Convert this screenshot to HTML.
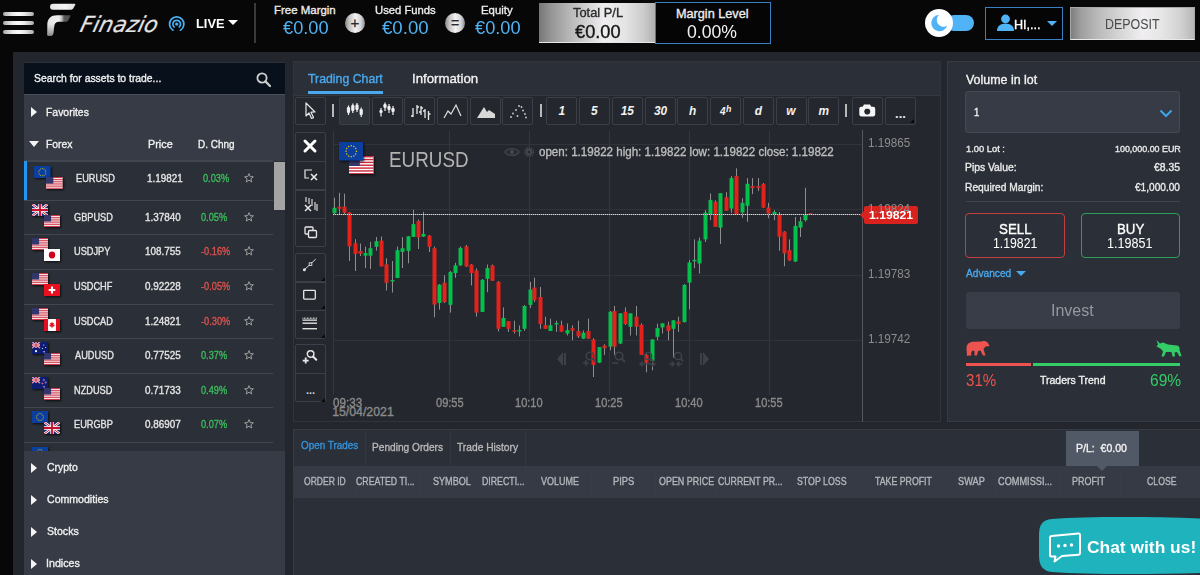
<!DOCTYPE html>
<html><head><meta charset="utf-8"><title>Finazio WebTrader</title>
<style>
*{box-sizing:border-box;margin:0;padding:0}
html,body{width:1200px;height:575px;overflow:hidden;background:#070707;font-family:"Liberation Sans",Arial,sans-serif;color:#e6e6e6}
.a{position:absolute}
.t{position:absolute;line-height:1;white-space:pre;transform-origin:0 0}
.fl{filter:drop-shadow(1px 1px 1px rgba(0,0,0,.75))}
</style></head><body>
<div class="a" style="left:2.7px;top:12px;width:31.2px;height:4px;background:linear-gradient(90deg,#a8a8a8,#e8e8e8 30%,#fafafa 50%,#e8e8e8 70%,#a8a8a8);border-radius:2px"></div>
<div class="a" style="left:2.7px;top:21px;width:31.2px;height:4px;background:linear-gradient(90deg,#a8a8a8,#e8e8e8 30%,#fafafa 50%,#e8e8e8 70%,#a8a8a8);border-radius:2px"></div>
<div class="a" style="left:2.7px;top:30px;width:31.2px;height:4px;background:linear-gradient(90deg,#a8a8a8,#e8e8e8 30%,#fafafa 50%,#e8e8e8 70%,#a8a8a8);border-radius:2px"></div>
<svg class="a" style="left:44px;top:2px" width="36" height="36" viewBox="0 0 36 36">
<defs><linearGradient id="lgt" x1="0" y1="0" x2="1" y2="0"><stop offset="0" stop-color="#e6e6e6"/><stop offset="0.6" stop-color="#f4f4f4"/><stop offset="1" stop-color="#dcdcdc"/></linearGradient>
<linearGradient id="lgb" x1="0" y1="0" x2="1" y2="0"><stop offset="0" stop-color="#e4e4e4"/><stop offset="0.5" stop-color="#eeeeee"/><stop offset="0.62" stop-color="#bdbdbd"/><stop offset="0.72" stop-color="#5c5c5c"/><stop offset="1" stop-color="#4a4a4a"/></linearGradient>
<linearGradient id="lgs" x1="0" y1="0" x2="0" y2="1"><stop offset="0" stop-color="#9a9a9a" stop-opacity="0"/><stop offset="1" stop-color="#8a8a8a" stop-opacity="1"/></linearGradient></defs>
<path d="M9 1.8 H30.5 Q31.8 1.8 31.2 3 L29.2 6.6 Q28.6 7.7 27.3 7.7 H9 A2.95 2.95 0 0 1 9 1.8 Z" fill="url(#lgt)"/>
<path d="M3.5 33.2 L3.3 23 C3.3 16.5 7 13.3 13 13.3 L25.9 13.3 Q26.8 13.3 26.4 14.3 L24.2 18.5 Q23.5 19.8 22 19.8 L15 19.8 C12 19.8 10.5 21.5 10.3 24 L9.2 31.5 C9 33 8 33.6 6.5 33.6 L4.5 33.6 Q3.5 33.6 3.5 33.2 Z" fill="url(#lgb)"/>
<path d="M3.5 33.2 L3.3 22 L10.6 22 L10.3 24 L9.2 31.5 C9 33 8 33.6 6.5 33.6 L4.5 33.6 Q3.5 33.6 3.5 33.2 Z" fill="url(#lgs)"/>
</svg>
<div class="t" style="left:79px;top:14px;font-size:22px;font-family:'DejaVu Sans',sans-serif;font-weight:200;font-style:italic;color:#e4e4e4;transform-origin:0 18px;transform:skewX(-14deg) scaleX(1.0);-webkit-text-stroke:0.2px #e4e4e4">Finazio</div>
<svg class="a" style="left:167px;top:15px" width="20" height="18" viewBox="0 0 20 18">
<circle cx="9.7" cy="9.1" r="1.7" fill="#4ab0f4"/>
<path d="M7.11 11.88 A3.8 3.8 0 1 1 12.29 11.88" fill="none" stroke="#4ab0f4" stroke-width="1.7" stroke-linecap="round"/>
<path d="M5.93 15.23 A7.2 7.2 0 1 1 13.47 15.23" fill="none" stroke="#4ab0f4" stroke-width="1.7" stroke-linecap="round"/>
</svg>
<div class="a" style="left:228px;top:20px;width:0;height:0;border-left:5px solid transparent;border-right:5px solid transparent;border-top:5px solid #fff"></div>
<div class="a" style="left:254px;top:3px;width:2px;height:40px;background:#3a3a3a;"></div>
<div class="a" style="left:345px;top:13px;width:20px;height:20px;background:linear-gradient(90deg,#8a8a8a 0,#c4c4c4 22%,#f2f2f2 52%,#d6d6d6 78%,#8e8e8e 100%);border-radius:50%"></div>
<div class="a" style="left:445px;top:13px;width:20px;height:20px;background:linear-gradient(90deg,#8a8a8a 0,#c4c4c4 22%,#f2f2f2 52%,#d6d6d6 78%,#8e8e8e 100%);border-radius:50%"></div>
<div class="a" style="left:345px;top:13px;width:20px;height:20px;text-align:center;font:15px/20px 'Liberation Sans',sans-serif;color:#2a2a2a;-webkit-text-stroke:0.3px #2a2a2a">+</div>
<div class="a" style="left:445px;top:13px;width:20px;height:20px;text-align:center;font:14px/20px 'Liberation Sans',sans-serif;color:#2a2a2a;-webkit-text-stroke:0.3px #2a2a2a">=</div>
<div class="a" style="left:539px;top:3px;width:116px;height:40px;background:linear-gradient(90deg,#767676 0,#949494 10%,#b2b2b2 24%,#d0d0d0 40%,#f0eef0 56%,#e4e4e4 74%,#cccccc 90%,#b0b0b0 100%);border-bottom:1px solid #e6e6e6"></div>
<div class="a" style="left:655px;top:2px;width:116px;height:42px;background:#050505;border:1px solid #3a7fc0"></div>
<div class="a" style="left:946px;top:15px;width:28px;height:16px;background:#4fb3f6;border-radius:8px"></div>
<div class="a" style="left:925px;top:9px;width:28px;height:28px;background:#ffffff;border-radius:50%"></div>
<svg class="a" style="left:929.5px;top:13px" width="20" height="20" viewBox="0 0 20 20"><path d="M9.11 1.81 A8.2 8.2 0 1 0 17.25 12.67 A6.8 6.8 0 0 1 9.11 1.81 Z" fill="#4fb3f6"/></svg>
<div class="a" style="left:985px;top:7px;width:78px;height:33px;background:#050505;border:1px solid #3a7fc0"></div>
<svg class="a" style="left:996px;top:14px" width="19" height="17" viewBox="0 0 19 17"><circle cx="9.5" cy="5" r="4.4" fill="#4fb3f6"/><path d="M1 17 C1 11.5 5 9.8 9.5 9.8 C14 9.8 18 11.5 18 17 Z" fill="#4fb3f6"/></svg>
<div class="a" style="left:1047px;top:20.5px;width:0;height:0;border-left:5px solid transparent;border-right:5px solid transparent;border-top:5px solid #4fb3f6"></div>
<div class="a" style="left:1070px;top:7px;width:125px;height:33px;background:linear-gradient(90deg,#7e7e7e 0,#9e9e9e 8%,#bababa 22%,#d6d6d6 40%,#f0eef1 58%,#e6e6e6 74%,#d0d0d0 90%,#b6b6b6 100%);border:1px solid #a8a8a8;border-bottom-color:#e8e8e8"></div>
<div class="a" style="left:13px;top:52px;width:1187px;height:523px;background:#23262c;"></div>
<div class="a" style="left:24px;top:62px;width:261px;height:513px;background:#363b45;"></div>
<div class="a" style="left:24px;top:62px;width:261px;height:1px;background:#2d3139;"></div>
<div class="a" style="left:24px;top:63px;width:261px;height:31px;background:#08111b;"></div>
<div class="a" style="left:24px;top:94px;width:261px;height:1px;background:#4b515b;"></div>
<div class="a" style="left:24px;top:161px;width:261px;height:290px;background:#2b2f37;"></div>
<div class="a" style="left:24px;top:160px;width:249px;height:2px;background:#41464f;"></div>
<svg class="a" style="left:255px;top:71px" width="18" height="18" viewBox="0 0 18 18"><circle cx="7" cy="7" r="4.6" fill="none" stroke="#cfcfcf" stroke-width="1.8"/><path d="M10.4 10.4 L15 15" stroke="#cfcfcf" stroke-width="2.2" stroke-linecap="round"/></svg>
<div class="a" style="left:30.6px;top:106.6px;width:0;height:0;border-top:5px solid transparent;border-bottom:5px solid transparent;border-left:6.2px solid #f4f4f4"></div>
<div class="a" style="left:28.6px;top:141px;width:0;height:0;border-left:5px solid transparent;border-right:5px solid transparent;border-top:6px solid #f4f4f4"></div>
<svg class="a fl" style="left:34.4px;top:166px" width="16.6" height="12.2" viewBox="0 0 17 12" preserveAspectRatio="none"><rect width="17" height="12" fill="#0a3fa0"/><circle cx="12.10" cy="6.00" r="0.5" fill="#f5d200"/><circle cx="11.62" cy="7.80" r="0.5" fill="#f5d200"/><circle cx="10.30" cy="9.12" r="0.5" fill="#f5d200"/><circle cx="8.50" cy="9.60" r="0.5" fill="#f5d200"/><circle cx="6.70" cy="9.12" r="0.5" fill="#f5d200"/><circle cx="5.38" cy="7.80" r="0.5" fill="#f5d200"/><circle cx="4.90" cy="6.00" r="0.5" fill="#f5d200"/><circle cx="5.38" cy="4.20" r="0.5" fill="#f5d200"/><circle cx="6.70" cy="2.88" r="0.5" fill="#f5d200"/><circle cx="8.50" cy="2.40" r="0.5" fill="#f5d200"/><circle cx="10.30" cy="2.88" r="0.5" fill="#f5d200"/><circle cx="11.62" cy="4.20" r="0.5" fill="#f5d200"/></svg>
<svg class="a fl" style="left:46px;top:177px" width="16.6" height="12.2" viewBox="0 0 17 12" preserveAspectRatio="none"><rect width="17" height="12" fill="#fff"/><rect y="0.00" width="17" height="0.92" fill="#c8283c"/><rect y="1.85" width="17" height="0.92" fill="#c8283c"/><rect y="3.69" width="17" height="0.92" fill="#c8283c"/><rect y="5.54" width="17" height="0.92" fill="#c8283c"/><rect y="7.38" width="17" height="0.92" fill="#c8283c"/><rect y="9.23" width="17" height="0.92" fill="#c8283c"/><rect y="11.08" width="17" height="0.92" fill="#c8283c"/><rect width="7.5" height="6.5" fill="#33366a"/></svg>
<svg class="a" style="left:244px;top:173.4px" width="10" height="10" viewBox="0 0 10 10"><path d="M5 0.6 L6.2 3.6 L9.4 3.8 L6.9 5.8 L7.7 9 L5 7.2 L2.3 9 L3.1 5.8 L0.6 3.8 L3.8 3.6 Z" fill="none" stroke="#a8a8a8" stroke-width="0.9" stroke-linejoin="round"/></svg>
<svg class="a fl" style="left:32px;top:204.4px" width="16" height="12" viewBox="0 0 17 12" preserveAspectRatio="none"><rect width="17" height="12" fill="#1f2a6b"/><path d="M0 0L17 12M17 0L0 12" stroke="#fff" stroke-width="2.6"/><path d="M0 0L17 12M17 0L0 12" stroke="#c8102e" stroke-width="1"/><path d="M8.5 0V12M0 6H17" stroke="#fff" stroke-width="3.6"/><path d="M8.5 0V12M0 6H17" stroke="#c8102e" stroke-width="2"/></svg>
<svg class="a fl" style="left:43.6px;top:215.4px" width="16" height="12" viewBox="0 0 17 12" preserveAspectRatio="none"><rect width="17" height="12" fill="#fff"/><rect y="0.00" width="17" height="0.92" fill="#c8283c"/><rect y="1.85" width="17" height="0.92" fill="#c8283c"/><rect y="3.69" width="17" height="0.92" fill="#c8283c"/><rect y="5.54" width="17" height="0.92" fill="#c8283c"/><rect y="7.38" width="17" height="0.92" fill="#c8283c"/><rect y="9.23" width="17" height="0.92" fill="#c8283c"/><rect y="11.08" width="17" height="0.92" fill="#c8283c"/><rect width="7.5" height="6.5" fill="#33366a"/></svg>
<svg class="a" style="left:244px;top:211.9px" width="10" height="10" viewBox="0 0 10 10"><path d="M5 0.6 L6.2 3.6 L9.4 3.8 L6.9 5.8 L7.7 9 L5 7.2 L2.3 9 L3.1 5.8 L0.6 3.8 L3.8 3.6 Z" fill="none" stroke="#a8a8a8" stroke-width="0.9" stroke-linejoin="round"/></svg>
<svg class="a fl" style="left:32px;top:238.4px" width="16" height="12" viewBox="0 0 17 12" preserveAspectRatio="none"><rect width="17" height="12" fill="#fff"/><rect y="0.00" width="17" height="0.92" fill="#c8283c"/><rect y="1.85" width="17" height="0.92" fill="#c8283c"/><rect y="3.69" width="17" height="0.92" fill="#c8283c"/><rect y="5.54" width="17" height="0.92" fill="#c8283c"/><rect y="7.38" width="17" height="0.92" fill="#c8283c"/><rect y="9.23" width="17" height="0.92" fill="#c8283c"/><rect y="11.08" width="17" height="0.92" fill="#c8283c"/><rect width="7.5" height="6.5" fill="#33366a"/></svg>
<svg class="a fl" style="left:43.6px;top:249.4px" width="16" height="12" viewBox="0 0 17 12" preserveAspectRatio="none"><rect width="17" height="12" fill="#fff"/><circle cx="8.5" cy="6" r="3.4" fill="#d0021b"/></svg>
<svg class="a" style="left:244px;top:245.9px" width="10" height="10" viewBox="0 0 10 10"><path d="M5 0.6 L6.2 3.6 L9.4 3.8 L6.9 5.8 L7.7 9 L5 7.2 L2.3 9 L3.1 5.8 L0.6 3.8 L3.8 3.6 Z" fill="none" stroke="#a8a8a8" stroke-width="0.9" stroke-linejoin="round"/></svg>
<svg class="a fl" style="left:32px;top:273.4px" width="16" height="12" viewBox="0 0 17 12" preserveAspectRatio="none"><rect width="17" height="12" fill="#fff"/><rect y="0.00" width="17" height="0.92" fill="#c8283c"/><rect y="1.85" width="17" height="0.92" fill="#c8283c"/><rect y="3.69" width="17" height="0.92" fill="#c8283c"/><rect y="5.54" width="17" height="0.92" fill="#c8283c"/><rect y="7.38" width="17" height="0.92" fill="#c8283c"/><rect y="9.23" width="17" height="0.92" fill="#c8283c"/><rect y="11.08" width="17" height="0.92" fill="#c8283c"/><rect width="7.5" height="6.5" fill="#33366a"/></svg>
<svg class="a fl" style="left:43.6px;top:284.4px" width="16" height="12" viewBox="0 0 17 12" preserveAspectRatio="none"><rect width="17" height="12" fill="#e8101e"/><path d="M8.5 2.5V9.5M5 6H12" stroke="#fff" stroke-width="2.2"/></svg>
<svg class="a" style="left:244px;top:280.9px" width="10" height="10" viewBox="0 0 10 10"><path d="M5 0.6 L6.2 3.6 L9.4 3.8 L6.9 5.8 L7.7 9 L5 7.2 L2.3 9 L3.1 5.8 L0.6 3.8 L3.8 3.6 Z" fill="none" stroke="#a8a8a8" stroke-width="0.9" stroke-linejoin="round"/></svg>
<svg class="a fl" style="left:32px;top:308.4px" width="16" height="12" viewBox="0 0 17 12" preserveAspectRatio="none"><rect width="17" height="12" fill="#fff"/><rect y="0.00" width="17" height="0.92" fill="#c8283c"/><rect y="1.85" width="17" height="0.92" fill="#c8283c"/><rect y="3.69" width="17" height="0.92" fill="#c8283c"/><rect y="5.54" width="17" height="0.92" fill="#c8283c"/><rect y="7.38" width="17" height="0.92" fill="#c8283c"/><rect y="9.23" width="17" height="0.92" fill="#c8283c"/><rect y="11.08" width="17" height="0.92" fill="#c8283c"/><rect width="7.5" height="6.5" fill="#33366a"/></svg>
<svg class="a fl" style="left:43.6px;top:319.4px" width="16" height="12" viewBox="0 0 17 12" preserveAspectRatio="none"><rect width="17" height="12" fill="#fff"/><rect width="4.3" height="12" fill="#e01020"/><rect x="12.7" width="4.3" height="12" fill="#e01020"/><path d="M8.5 2.5L9.3 4.2L10.6 3.8L10.1 6.2L11.4 5.6L11 7.2L9 7.8L8.8 9.3H8.2L8 7.8L6 7.2L5.6 5.6L6.9 6.2L6.4 3.8L7.7 4.2Z" fill="#e01020"/></svg>
<svg class="a" style="left:244px;top:315.9px" width="10" height="10" viewBox="0 0 10 10"><path d="M5 0.6 L6.2 3.6 L9.4 3.8 L6.9 5.8 L7.7 9 L5 7.2 L2.3 9 L3.1 5.8 L0.6 3.8 L3.8 3.6 Z" fill="none" stroke="#a8a8a8" stroke-width="0.9" stroke-linejoin="round"/></svg>
<svg class="a fl" style="left:32px;top:342.4px" width="16" height="12" viewBox="0 0 17 12" preserveAspectRatio="none"><rect width="17" height="12" fill="#0c1c73"/><g><path d="M0 0L8.5 6M8.5 0L0 6" stroke="#fff" stroke-width="1.4"/><path d="M0 0L8.5 6M8.5 0L0 6" stroke="#c8102e" stroke-width="0.6"/><path d="M4.25 0V6M0 3H8.5" stroke="#fff" stroke-width="1.8"/><path d="M4.25 0V6M0 3H8.5" stroke="#c8102e" stroke-width="1"/></g><circle cx="4.3" cy="9.2" r="1.1" fill="#fff"/><circle cx="12.5" cy="3" r="0.6" fill="#fff"/><circle cx="14.5" cy="5.5" r="0.6" fill="#fff"/><circle cx="11" cy="6.5" r="0.6" fill="#fff"/><circle cx="12.8" cy="9.8" r="0.7" fill="#fff"/></svg>
<svg class="a fl" style="left:43.6px;top:353.4px" width="16" height="12" viewBox="0 0 17 12" preserveAspectRatio="none"><rect width="17" height="12" fill="#fff"/><rect y="0.00" width="17" height="0.92" fill="#c8283c"/><rect y="1.85" width="17" height="0.92" fill="#c8283c"/><rect y="3.69" width="17" height="0.92" fill="#c8283c"/><rect y="5.54" width="17" height="0.92" fill="#c8283c"/><rect y="7.38" width="17" height="0.92" fill="#c8283c"/><rect y="9.23" width="17" height="0.92" fill="#c8283c"/><rect y="11.08" width="17" height="0.92" fill="#c8283c"/><rect width="7.5" height="6.5" fill="#33366a"/></svg>
<svg class="a" style="left:244px;top:349.9px" width="10" height="10" viewBox="0 0 10 10"><path d="M5 0.6 L6.2 3.6 L9.4 3.8 L6.9 5.8 L7.7 9 L5 7.2 L2.3 9 L3.1 5.8 L0.6 3.8 L3.8 3.6 Z" fill="none" stroke="#a8a8a8" stroke-width="0.9" stroke-linejoin="round"/></svg>
<svg class="a fl" style="left:32px;top:377.4px" width="16" height="12" viewBox="0 0 17 12" preserveAspectRatio="none"><rect width="17" height="12" fill="#0c1c73"/><g><path d="M0 0L8.5 6M8.5 0L0 6" stroke="#fff" stroke-width="1.4"/><path d="M0 0L8.5 6M8.5 0L0 6" stroke="#c8102e" stroke-width="0.6"/><path d="M4.25 0V6M0 3H8.5" stroke="#fff" stroke-width="1.8"/><path d="M4.25 0V6M0 3H8.5" stroke="#c8102e" stroke-width="1"/></g><circle cx="12.5" cy="3" r="0.8" fill="#e0102a" stroke="#fff" stroke-width="0.3"/><circle cx="14.5" cy="5.5" r="0.8" fill="#e0102a" stroke="#fff" stroke-width="0.3"/><circle cx="11" cy="6.5" r="0.7" fill="#e0102a" stroke="#fff" stroke-width="0.3"/><circle cx="12.8" cy="9.8" r="0.8" fill="#e0102a" stroke="#fff" stroke-width="0.3"/></svg>
<svg class="a fl" style="left:43.6px;top:388.4px" width="16" height="12" viewBox="0 0 17 12" preserveAspectRatio="none"><rect width="17" height="12" fill="#fff"/><rect y="0.00" width="17" height="0.92" fill="#c8283c"/><rect y="1.85" width="17" height="0.92" fill="#c8283c"/><rect y="3.69" width="17" height="0.92" fill="#c8283c"/><rect y="5.54" width="17" height="0.92" fill="#c8283c"/><rect y="7.38" width="17" height="0.92" fill="#c8283c"/><rect y="9.23" width="17" height="0.92" fill="#c8283c"/><rect y="11.08" width="17" height="0.92" fill="#c8283c"/><rect width="7.5" height="6.5" fill="#33366a"/></svg>
<svg class="a" style="left:244px;top:384.9px" width="10" height="10" viewBox="0 0 10 10"><path d="M5 0.6 L6.2 3.6 L9.4 3.8 L6.9 5.8 L7.7 9 L5 7.2 L2.3 9 L3.1 5.8 L0.6 3.8 L3.8 3.6 Z" fill="none" stroke="#a8a8a8" stroke-width="0.9" stroke-linejoin="round"/></svg>
<svg class="a fl" style="left:32px;top:411.4px" width="16" height="12" viewBox="0 0 17 12" preserveAspectRatio="none"><rect width="17" height="12" fill="#0a3fa0"/><circle cx="12.10" cy="6.00" r="0.5" fill="#f5d200"/><circle cx="11.62" cy="7.80" r="0.5" fill="#f5d200"/><circle cx="10.30" cy="9.12" r="0.5" fill="#f5d200"/><circle cx="8.50" cy="9.60" r="0.5" fill="#f5d200"/><circle cx="6.70" cy="9.12" r="0.5" fill="#f5d200"/><circle cx="5.38" cy="7.80" r="0.5" fill="#f5d200"/><circle cx="4.90" cy="6.00" r="0.5" fill="#f5d200"/><circle cx="5.38" cy="4.20" r="0.5" fill="#f5d200"/><circle cx="6.70" cy="2.88" r="0.5" fill="#f5d200"/><circle cx="8.50" cy="2.40" r="0.5" fill="#f5d200"/><circle cx="10.30" cy="2.88" r="0.5" fill="#f5d200"/><circle cx="11.62" cy="4.20" r="0.5" fill="#f5d200"/></svg>
<svg class="a fl" style="left:43.6px;top:422.4px" width="16" height="12" viewBox="0 0 17 12" preserveAspectRatio="none"><rect width="17" height="12" fill="#1f2a6b"/><path d="M0 0L17 12M17 0L0 12" stroke="#fff" stroke-width="2.6"/><path d="M0 0L17 12M17 0L0 12" stroke="#c8102e" stroke-width="1"/><path d="M8.5 0V12M0 6H17" stroke="#fff" stroke-width="3.6"/><path d="M8.5 0V12M0 6H17" stroke="#c8102e" stroke-width="2"/></svg>
<svg class="a" style="left:244px;top:418.9px" width="10" height="10" viewBox="0 0 10 10"><path d="M5 0.6 L6.2 3.6 L9.4 3.8 L6.9 5.8 L7.7 9 L5 7.2 L2.3 9 L3.1 5.8 L0.6 3.8 L3.8 3.6 Z" fill="none" stroke="#a8a8a8" stroke-width="0.9" stroke-linejoin="round"/></svg>
<div class="a" style="left:24px;top:200px;width:249px;height:1px;background:#41464f;"></div>
<div class="a" style="left:24px;top:234px;width:249px;height:1px;background:#41464f;"></div>
<div class="a" style="left:24px;top:269px;width:249px;height:1px;background:#41464f;"></div>
<div class="a" style="left:24px;top:304px;width:249px;height:1px;background:#41464f;"></div>
<div class="a" style="left:24px;top:338px;width:249px;height:1px;background:#41464f;"></div>
<div class="a" style="left:24px;top:373px;width:249px;height:1px;background:#41464f;"></div>
<div class="a" style="left:24px;top:407px;width:249px;height:1px;background:#41464f;"></div>
<div class="a" style="left:24px;top:442px;width:249px;height:1px;background:#41464f;"></div>
<svg class="a fl" style="left:32px;top:446.5px" width="16" height="12" viewBox="0 0 17 12" preserveAspectRatio="none"><rect width="17" height="12" fill="#0a3fa0"/><circle cx="12.10" cy="6.00" r="0.5" fill="#f5d200"/><circle cx="11.62" cy="7.80" r="0.5" fill="#f5d200"/><circle cx="10.30" cy="9.12" r="0.5" fill="#f5d200"/><circle cx="8.50" cy="9.60" r="0.5" fill="#f5d200"/><circle cx="6.70" cy="9.12" r="0.5" fill="#f5d200"/><circle cx="5.38" cy="7.80" r="0.5" fill="#f5d200"/><circle cx="4.90" cy="6.00" r="0.5" fill="#f5d200"/><circle cx="5.38" cy="4.20" r="0.5" fill="#f5d200"/><circle cx="6.70" cy="2.88" r="0.5" fill="#f5d200"/><circle cx="8.50" cy="2.40" r="0.5" fill="#f5d200"/><circle cx="10.30" cy="2.88" r="0.5" fill="#f5d200"/><circle cx="11.62" cy="4.20" r="0.5" fill="#f5d200"/></svg>
<div class="a" style="left:24px;top:161px;width:3px;height:39px;background:#2196f3;"></div>
<div class="a" style="left:274px;top:162px;width:11px;height:48px;background:#a4a4a4;"></div>
<div class="a" style="left:24px;top:451px;width:261px;height:124px;background:#363b45;"></div>
<div class="a" style="left:30.6px;top:463.1px;width:0;height:0;border-top:5px solid transparent;border-bottom:5px solid transparent;border-left:6.2px solid #f4f4f4"></div>
<div class="a" style="left:30.6px;top:495.1px;width:0;height:0;border-top:5px solid transparent;border-bottom:5px solid transparent;border-left:6.2px solid #f4f4f4"></div>
<div class="a" style="left:30.6px;top:527.0999999999999px;width:0;height:0;border-top:5px solid transparent;border-bottom:5px solid transparent;border-left:6.2px solid #f4f4f4"></div>
<div class="a" style="left:30.6px;top:559.0999999999999px;width:0;height:0;border-top:5px solid transparent;border-bottom:5px solid transparent;border-left:6.2px solid #f4f4f4"></div>
<div class="a" style="left:293px;top:61px;width:648px;height:361px;background:#24272e;border:1px solid #30343b"></div>
<div class="a" style="left:294px;top:62px;width:646px;height:33px;background:#2b2f37;"></div>
<div class="a" style="left:294px;top:95px;width:646px;height:1px;background:#343840;"></div>
<div class="a" style="left:308px;top:91px;width:75px;height:3px;background:#4aa9ee;"></div>
<div class="a" style="left:295px;top:97px;width:31px;height:28px;background:#24272e;border:1px solid #3b4048;border-radius:2px"></div>
<div class="a" style="left:339px;top:97px;width:31px;height:28px;background:#2e3239;border:1px solid #3b4048;border-radius:2px"></div>
<div class="a" style="left:372px;top:97px;width:31px;height:28px;background:#24272e;border:1px solid #3b4048;border-radius:2px"></div>
<div class="a" style="left:404px;top:97px;width:31px;height:28px;background:#24272e;border:1px solid #3b4048;border-radius:2px"></div>
<div class="a" style="left:437px;top:97px;width:31px;height:28px;background:#24272e;border:1px solid #3b4048;border-radius:2px"></div>
<div class="a" style="left:470px;top:97px;width:31px;height:28px;background:#24272e;border:1px solid #3b4048;border-radius:2px"></div>
<div class="a" style="left:502px;top:97px;width:31px;height:28px;background:#24272e;border:1px solid #3b4048;border-radius:2px"></div>
<div class="a" style="left:546px;top:97px;width:31px;height:28px;background:#24272e;border:1px solid #3b4048;border-radius:2px"></div>
<div class="a" style="left:579px;top:97px;width:31px;height:28px;background:#24272e;border:1px solid #3b4048;border-radius:2px"></div>
<div class="a" style="left:612px;top:97px;width:31px;height:28px;background:#24272e;border:1px solid #3b4048;border-radius:2px"></div>
<div class="a" style="left:645px;top:97px;width:31px;height:28px;background:#24272e;border:1px solid #3b4048;border-radius:2px"></div>
<div class="a" style="left:677px;top:97px;width:31px;height:28px;background:#24272e;border:1px solid #3b4048;border-radius:2px"></div>
<div class="a" style="left:710px;top:97px;width:31px;height:28px;background:#24272e;border:1px solid #3b4048;border-radius:2px"></div>
<div class="a" style="left:743px;top:97px;width:31px;height:28px;background:#24272e;border:1px solid #3b4048;border-radius:2px"></div>
<div class="a" style="left:776px;top:97px;width:31px;height:28px;background:#24272e;border:1px solid #3b4048;border-radius:2px"></div>
<div class="a" style="left:808px;top:97px;width:31px;height:28px;background:#24272e;border:1px solid #3b4048;border-radius:2px"></div>
<div class="a" style="left:852px;top:97px;width:31px;height:28px;background:#24272e;border:1px solid #3b4048;border-radius:2px"></div>
<div class="a" style="left:885px;top:97px;width:31px;height:28px;background:#24272e;border:1px solid #3b4048;border-radius:2px"></div>
<div class="a" style="left:332px;top:104px;width:2px;height:13px;background:#b8b8b8;"></div>
<div class="a" style="left:540px;top:104px;width:2px;height:13px;background:#b8b8b8;"></div>
<div class="a" style="left:845px;top:104px;width:2px;height:13px;background:#b8b8b8;"></div>
<svg class="a" style="left:304px;top:102px" width="14" height="18" viewBox="0 0 14 18"><path d="M2 1 L2 14 L5 11 L7.5 16.5 L9.5 15.6 L7 10.2 L11 10 Z" fill="none" stroke="#e8e8e8" stroke-width="1.2" stroke-linejoin="round"/></svg>
<svg class="a" style="left:345px;top:101px" width="20" height="20" viewBox="0 0 20 20"><rect x="2.9" y="4.5" width="1.2" height="9.5" fill="#f0f0f0"/><rect x="1.9" y="6" width="3.2" height="6" rx="1.2" fill="#f0f0f0"/><rect x="7.2" y="2.5" width="1.2" height="9.5" fill="#f0f0f0"/><rect x="6.199999999999999" y="4" width="3.2" height="6" rx="1.2" fill="#f0f0f0"/><rect x="11.4" y="2" width="1.2" height="9" fill="#f0f0f0"/><rect x="10.4" y="3.5" width="3.2" height="5.5" rx="1.2" fill="#f0f0f0"/><rect x="15.6" y="6.5" width="1.2" height="9.5" fill="#f0f0f0"/><rect x="14.6" y="8" width="3.2" height="6" rx="1.2" fill="#f0f0f0"/></svg>
<svg class="a" style="left:378px;top:101px" width="20" height="20" viewBox="0 0 20 20"><rect x="2.4" y="7" width="1.2" height="8.5" fill="#f0f0f0"/><rect x="1.4" y="9" width="3.2" height="3" rx="1.2" fill="#f0f0f0"/><rect x="6.4" y="1.5" width="1.2" height="8.5" fill="#f0f0f0"/><rect x="5.4" y="3" width="3.2" height="4" rx="1.2" fill="#f0f0f0"/><rect x="10.4" y="3" width="1.2" height="9" fill="#f0f0f0"/><rect x="9.4" y="5" width="3.2" height="4" rx="1.2" fill="#f0f0f0"/><rect x="14.4" y="5" width="1.2" height="9" fill="#f0f0f0"/><rect x="13.4" y="7" width="3.2" height="4" rx="1.2" fill="#f0f0f0"/></svg>
<svg class="a" style="left:410px;top:102px" width="22" height="20" viewBox="0 0 22 20"><g stroke="#e8e8e8" stroke-width="1.3" fill="none"><path d="M3 6V15M1 14H3"/><path d="M7 3V12M7 5H9"/><path d="M11 4V13M9 10H11M11 6H13"/><path d="M15 7V16M13 9H15"/><path d="M18.5 9V18M18.5 12H20.5"/></g></svg>
<svg class="a" style="left:443px;top:102px" width="20" height="18" viewBox="0 0 20 18"><path d="M1 16 L5 9 L8 12 L13 3 L18 14" fill="none" stroke="#e0e0e0" stroke-width="1.2"/></svg>
<svg class="a" style="left:476px;top:102px" width="20" height="18" viewBox="0 0 20 18"><path d="M1 16 L8 5 L11 10 L13 8 L19 12 L19 16 Z" fill="#d8d8d8"/></svg>
<svg class="a" style="left:508px;top:102px" width="20" height="18" viewBox="0 0 20 18"><g fill="#cfcfcf"><circle cx="3" cy="15" r="0.9"/><circle cx="5" cy="11.5" r="0.9"/><circle cx="8" cy="8" r="0.9"/><circle cx="11" cy="4" r="0.9"/><circle cx="13.5" cy="5" r="0.9"/><circle cx="15" cy="8.5" r="0.9"/><circle cx="17" cy="12" r="0.9"/><circle cx="18" cy="15.5" r="0.9"/><circle cx="9.5" cy="14" r="0.9"/></g></svg>
<svg class="a" style="left:858.5px;top:103.5px" width="17" height="13" viewBox="0 0 17 13"><path d="M5 0.6 H11 L12.3 2.8 H14.3 Q16.2 2.8 16.2 4.7 V10.6 Q16.2 12.4 14.3 12.4 H2.1 Q0.3 12.4 0.3 10.6 V4.7 Q0.3 2.8 2.1 2.8 H3.7 Z" fill="#f6f6f6"/><circle cx="8.25" cy="7.6" r="3.1" fill="#24272e"/><circle cx="8.25" cy="7.6" r="3.6" fill="none" stroke="#f6f6f6" stroke-width="0.6"/></svg>
<div class="a" style="left:885px;top:97px;width:31px;height:28px;text-align:center;font:bold 13px/28px 'Liberation Sans',sans-serif;color:#e6e6e6;padding-top:3px">...</div>
<div class="a" style="left:910px;top:119px;width:0;height:0;border-left:4px solid transparent;border-bottom:4px solid #0a0a0a"></div>
<div class="a" style="left:295px;top:132px;width:31px;height:115.4px;background:#24272e;border:1px solid #3b4048;border-radius:2px"></div>
<div class="a" style="left:296px;top:160.6px;width:29px;height:1.5px;background:#3b4048;"></div>
<div class="a" style="left:296px;top:189.2px;width:29px;height:1.5px;background:#3b4048;"></div>
<div class="a" style="left:296px;top:217.8px;width:29px;height:1.5px;background:#3b4048;"></div>
<div class="a" style="left:295px;top:252.5px;width:31px;height:86.5px;background:#24272e;border:1px solid #3b4048;border-radius:2px"></div>
<div class="a" style="left:296px;top:281.0px;width:29px;height:1.5px;background:#3b4048;"></div>
<div class="a" style="left:296px;top:309.5px;width:29px;height:1.5px;background:#3b4048;"></div>
<div class="a" style="left:295px;top:344px;width:31px;height:58.0px;background:#24272e;border:1px solid #3b4048;border-radius:2px"></div>
<div class="a" style="left:296px;top:372.5px;width:29px;height:1.5px;background:#3b4048;"></div>
<svg class="a" style="left:302px;top:138px" width="16" height="16" viewBox="0 0 16 16"><path d="M3 3 L13 13 M13 3 L3 13" stroke="#ffffff" stroke-width="3" stroke-linecap="round"/></svg>
<svg class="a" style="left:303px;top:167px" width="16" height="16" viewBox="0 0 16 16"><path d="M9 3 H2 V11 H6" fill="none" stroke="#e8e8e8" stroke-width="1.2"/><path d="M8 7 L14 13 M14 7 L8 13" stroke="#e8e8e8" stroke-width="1.6"/></svg>
<svg class="a" style="left:303px;top:196px" width="16" height="16" viewBox="0 0 16 16"><g stroke="#e8e8e8" stroke-width="1.1"><path d="M3 1V6M6 2V8M9 3V10M12 6V14M14 8V15"/><path d="M2 9 L8 15 M8 9 L2 15" stroke-width="1.5"/></g></svg>
<svg class="a" style="left:303px;top:224px" width="16" height="16" viewBox="0 0 16 16"><rect x="2" y="3" width="8" height="7" rx="1" fill="none" stroke="#e8e8e8" stroke-width="1.3"/><rect x="5.5" y="6.5" width="8" height="7" rx="1" fill="#24272e" stroke="#e8e8e8" stroke-width="1.3"/></svg>
<svg class="a" style="left:300px;top:256px" width="18" height="18" viewBox="0 0 18 18"><path d="M4.4 13.7 L15.8 3.1" stroke="#d8d8d8" stroke-width="1"/><circle cx="4.4" cy="13.7" r="1.5" fill="#e0e0e0"/><rect x="9.2" y="6.8" width="2.6" height="2.6" fill="#24272e" stroke="#e0e0e0" stroke-width="0.9"/></svg>
<svg class="a" style="left:301px;top:287px" width="18" height="16" viewBox="0 0 18 16"><rect x="2.7" y="3.3" width="11.6" height="8.8" rx="0.8" fill="none" stroke="#e8e8e8" stroke-width="1.3"/></svg>
<svg class="a" style="left:301px;top:314px" width="18" height="18" viewBox="0 0 18 18"><g fill="#e0e0e0"><rect x="1.5" y="5.5" width="14.5" height="1.3"/><rect x="1.5" y="8.5" width="14.5" height="1.4"/><rect x="1.5" y="14" width="14.5" height="1.4"/></g><path d="M1.5 4.3H16" stroke="#d0d0d0" stroke-width="1.6" stroke-dasharray="0.8 0.7"/></svg>
<div class="a" style="left:321px;top:276.5px;width:0;height:0;border-left:4px solid transparent;border-bottom:4px solid #0a0a0a"></div>
<div class="a" style="left:321px;top:305px;width:0;height:0;border-left:4px solid transparent;border-bottom:4px solid #0a0a0a"></div>
<div class="a" style="left:321px;top:333.5px;width:0;height:0;border-left:4px solid transparent;border-bottom:4px solid #0a0a0a"></div>
<div class="a" style="left:321px;top:397.5px;width:0;height:0;border-left:4px solid transparent;border-bottom:4px solid #0a0a0a"></div>
<svg class="a" style="left:302px;top:348px" width="18" height="18" viewBox="0 0 18 18"><circle cx="8.6" cy="6" r="3.3" fill="none" stroke="#e8e8e8" stroke-width="1.4"/><path d="M11 8.5 L14.3 11.8" stroke="#e8e8e8" stroke-width="2" stroke-linecap="round"/><path d="M3.7 9.6 V15.6 M0.7 12.6 H6.7" stroke="#e8e8e8" stroke-width="1.8"/></svg>
<div class="a" style="left:295px;top:373px;width:31px;height:28px;text-align:center;font:bold 11px/28px 'Liberation Sans',sans-serif;color:#d6d6d6;padding-top:3px">...</div>
<div class="a" style="left:333px;top:144px;width:529px;height:1px;background:#30333a;"></div>
<div class="a" style="left:333px;top:209px;width:529px;height:1px;background:#30333a;"></div>
<div class="a" style="left:333px;top:275px;width:529px;height:1px;background:#30333a;"></div>
<div class="a" style="left:333px;top:340px;width:529px;height:1px;background:#30333a;"></div>
<div class="a" style="left:333px;top:131px;width:1px;height:264px;background:#34373e;"></div>
<div class="a" style="left:449px;top:131px;width:1px;height:264px;background:#34373e;"></div>
<div class="a" style="left:529px;top:131px;width:1px;height:264px;background:#34373e;"></div>
<div class="a" style="left:609px;top:131px;width:1px;height:264px;background:#34373e;"></div>
<div class="a" style="left:689px;top:131px;width:1px;height:264px;background:#34373e;"></div>
<div class="a" style="left:769px;top:131px;width:1px;height:264px;background:#34373e;"></div>
<div class="a" style="left:862px;top:130px;width:1px;height:292px;background:#55585e;"></div>
<svg class="a" style="left:0;top:0" width="1200" height="575" viewBox="0 0 1200 575"><g fill="#8e8e8e"><rect x="334" y="197.7" width="1" height="17.3"/><rect x="339" y="192.8" width="1" height="22.2"/><rect x="344" y="193.7" width="1" height="21.3"/><rect x="349" y="212.0" width="1" height="49.0"/><rect x="355" y="239.2" width="1" height="31.8"/><rect x="360" y="243.5" width="1" height="12.5"/><rect x="365" y="246.6" width="1" height="21.5"/><rect x="370" y="241.9" width="1" height="27.1"/><rect x="376" y="237.0" width="1" height="13.6"/><rect x="381" y="236.5" width="1" height="29.9"/><rect x="386" y="258.3" width="1" height="32.2"/><rect x="392" y="261.0" width="1" height="31.5"/><rect x="397" y="246.6" width="1" height="31.4"/><rect x="402" y="237.2" width="1" height="30.8"/><rect x="408" y="236.0" width="1" height="27.3"/><rect x="413" y="209.8" width="1" height="27.2"/><rect x="418" y="219.5" width="1" height="29.5"/><rect x="423" y="211.8" width="1" height="25.2"/><rect x="429" y="235.0" width="1" height="17.0"/><rect x="434" y="246.6" width="1" height="70.6"/><rect x="439" y="284.0" width="1" height="25.6"/><rect x="444" y="275.3" width="1" height="27.7"/><rect x="450" y="271.0" width="1" height="41.6"/><rect x="455" y="262.8" width="1" height="15.0"/><rect x="460" y="246.6" width="1" height="19.4"/><rect x="466" y="245.0" width="1" height="22.0"/><rect x="471" y="264.0" width="1" height="21.5"/><rect x="476" y="268.4" width="1" height="48.2"/><rect x="482" y="279.0" width="1" height="33.0"/><rect x="487" y="264.5" width="1" height="27.7"/><rect x="492" y="264.5" width="1" height="16.5"/><rect x="498" y="281.0" width="1" height="50.5"/><rect x="503" y="307.4" width="1" height="19.6"/><rect x="508" y="321.0" width="1" height="10.9"/><rect x="514" y="320.7" width="1" height="12.8"/><rect x="519" y="325.4" width="1" height="11.0"/><rect x="524" y="305.0" width="1" height="25.8"/><rect x="530" y="281.9" width="1" height="26.1"/><rect x="534" y="277.6" width="1" height="24.4"/><rect x="540" y="287.0" width="1" height="41.8"/><rect x="545" y="316.7" width="1" height="12.3"/><rect x="550" y="318.7" width="1" height="12.3"/><rect x="556" y="320.7" width="1" height="11.2"/><rect x="561" y="320.7" width="1" height="11.3"/><rect x="567" y="323.4" width="1" height="12.1"/><rect x="572" y="325.4" width="1" height="14.8"/><rect x="578" y="320.7" width="1" height="17.3"/><rect x="583" y="330.5" width="1" height="8.5"/><rect x="588" y="318.7" width="1" height="20.3"/><rect x="593" y="338.2" width="1" height="38.8"/><rect x="599" y="347.0" width="1" height="16.0"/><rect x="604" y="344.2" width="1" height="10.7"/><rect x="610" y="311.0" width="1" height="39.2"/><rect x="614" y="306.0" width="1" height="48.9"/><rect x="620" y="313.0" width="1" height="31.0"/><rect x="625" y="307.4" width="1" height="17.6"/><rect x="630" y="313.0" width="1" height="22.5"/><rect x="636" y="306.0" width="1" height="29.5"/><rect x="641" y="323.4" width="1" height="31.6"/><rect x="646" y="354.0" width="1" height="18.3"/><rect x="652" y="339.0" width="1" height="31.3"/><rect x="657" y="323.8" width="1" height="16.4"/><rect x="662" y="323.0" width="1" height="10.5"/><rect x="668" y="321.7" width="1" height="18.5"/><rect x="673" y="320.0" width="1" height="37.6"/><rect x="678" y="316.7" width="1" height="15.2"/><rect x="684" y="284.0" width="1" height="38.5"/><rect x="689" y="260.1" width="1" height="49.3"/><rect x="694" y="239.4" width="1" height="28.8"/><rect x="699" y="237.4" width="1" height="36.1"/><rect x="705" y="210.2" width="1" height="31.8"/><rect x="710" y="193.5" width="1" height="26.7"/><rect x="715" y="200.2" width="1" height="26.8"/><rect x="720" y="193.0" width="1" height="51.0"/><rect x="726" y="192.1" width="1" height="18.9"/><rect x="731" y="176.0" width="1" height="36.9"/><rect x="736" y="168.3" width="1" height="46.7"/><rect x="742" y="198.2" width="1" height="19.6"/><rect x="747" y="178.1" width="1" height="43.7"/><rect x="752" y="178.1" width="1" height="16.0"/><rect x="758" y="178.1" width="1" height="13.0"/><rect x="763" y="183.0" width="1" height="25.0"/><rect x="768" y="202.8" width="1" height="15.4"/><rect x="774" y="210.2" width="1" height="10.0"/><rect x="779" y="212.0" width="1" height="38.8"/><rect x="784" y="231.0" width="1" height="35.2"/><rect x="789" y="239.4" width="1" height="21.6"/><rect x="795" y="216.9" width="1" height="45.1"/><rect x="800" y="216.9" width="1" height="20.1"/><rect x="805" y="187.8" width="1" height="33.8"/><rect x="810" y="213.0" width="1" height="2.0"/></g><rect x="332.5" y="207.8" width="4" height="5.3" fill="#05bf4c"/><rect x="337.5" y="206.8" width="4" height="1.9" fill="#e3221c"/><rect x="342.5" y="206.7" width="4" height="6.0" fill="#e3221c"/><rect x="347.5" y="212.4" width="4" height="33.9" fill="#e3221c"/><rect x="353.5" y="243.2" width="4" height="10.7" fill="#e3221c"/><rect x="358.5" y="251.0" width="4" height="2.7" fill="#e3221c"/><rect x="363.5" y="253.0" width="4" height="2.7" fill="#05bf4c"/><rect x="368.5" y="248.2" width="4" height="7.5" fill="#05bf4c"/><rect x="374.5" y="241.2" width="4" height="5.6" fill="#05bf4c"/><rect x="379.5" y="240.6" width="4" height="25.8" fill="#e3221c"/><rect x="384.5" y="264.4" width="4" height="18.4" fill="#e3221c"/><rect x="390.5" y="280.0" width="4" height="1.5" fill="#05bf4c"/><rect x="395.5" y="250.2" width="4" height="27.8" fill="#05bf4c"/><rect x="400.5" y="248.2" width="4" height="3.7" fill="#05bf4c"/><rect x="406.5" y="236.3" width="4" height="14.6" fill="#05bf4c"/><rect x="411.5" y="224.1" width="4" height="12.8" fill="#05bf4c"/><rect x="416.5" y="221.1" width="4" height="16.1" fill="#e3221c"/><rect x="421.5" y="233.9" width="4" height="2.6" fill="#05bf4c"/><rect x="427.5" y="235.6" width="4" height="11.2" fill="#e3221c"/><rect x="432.5" y="248.2" width="4" height="56.3" fill="#e3221c"/><rect x="437.5" y="284.7" width="4" height="18.2" fill="#05bf4c"/><rect x="442.5" y="282.8" width="4" height="19.3" fill="#e3221c"/><rect x="448.5" y="272.1" width="4" height="32.7" fill="#05bf4c"/><rect x="453.5" y="265.4" width="4" height="7.7" fill="#05bf4c"/><rect x="458.5" y="247.9" width="4" height="17.5" fill="#05bf4c"/><rect x="464.5" y="246.3" width="4" height="20.1" fill="#e3221c"/><rect x="469.5" y="264.6" width="4" height="8.5" fill="#e3221c"/><rect x="474.5" y="270.4" width="4" height="42.2" fill="#e3221c"/><rect x="480.5" y="279.8" width="4" height="32.1" fill="#05bf4c"/><rect x="485.5" y="268.1" width="4" height="10.7" fill="#05bf4c"/><rect x="490.5" y="265.5" width="4" height="15.3" fill="#e3221c"/><rect x="496.5" y="281.9" width="4" height="46.9" fill="#e3221c"/><rect x="501.5" y="318.0" width="4" height="8.8" fill="#05bf4c"/><rect x="506.5" y="321.2" width="4" height="7.6" fill="#e3221c"/><rect x="512.5" y="330.1" width="4" height="1.6" fill="#e3221c"/><rect x="517.5" y="330.0" width="4" height="1.5" fill="#05bf4c"/><rect x="522.5" y="306.0" width="4" height="22.8" fill="#05bf4c"/><rect x="528.5" y="289.6" width="4" height="15.3" fill="#05bf4c"/><rect x="532.5" y="287.6" width="4" height="12.6" fill="#e3221c"/><rect x="538.5" y="297.0" width="4" height="27.1" fill="#e3221c"/><rect x="543.5" y="325.2" width="4" height="3.6" fill="#e3221c"/><rect x="548.5" y="325.2" width="4" height="5.8" fill="#05bf4c"/><rect x="554.5" y="323.0" width="4" height="1.5" fill="#05bf4c"/><rect x="559.5" y="325.2" width="4" height="6.5" fill="#e3221c"/><rect x="565.5" y="330.1" width="4" height="3.4" fill="#05bf4c"/><rect x="570.5" y="328.1" width="4" height="2.7" fill="#e3221c"/><rect x="576.5" y="331.0" width="4" height="5.4" fill="#e3221c"/><rect x="581.5" y="332.8" width="4" height="5.8" fill="#05bf4c"/><rect x="586.5" y="331.0" width="4" height="7.6" fill="#e3221c"/><rect x="591.5" y="339.5" width="4" height="25.4" fill="#e3221c"/><rect x="597.5" y="347.1" width="4" height="15.5" fill="#05bf4c"/><rect x="602.5" y="345.5" width="4" height="2.7" fill="#e3221c"/><rect x="608.5" y="311.8" width="4" height="34.8" fill="#05bf4c"/><rect x="612.5" y="311.0" width="4" height="35.6" fill="#e3221c"/><rect x="618.5" y="313.4" width="4" height="30.1" fill="#05bf4c"/><rect x="623.5" y="311.8" width="4" height="12.3" fill="#e3221c"/><rect x="628.5" y="313.4" width="4" height="13.4" fill="#05bf4c"/><rect x="634.5" y="316.7" width="4" height="10.1" fill="#e3221c"/><rect x="639.5" y="324.8" width="4" height="30.1" fill="#e3221c"/><rect x="644.5" y="354.9" width="4" height="7.7" fill="#e3221c"/><rect x="650.5" y="339.5" width="4" height="21.4" fill="#05bf4c"/><rect x="655.5" y="328.1" width="4" height="8.7" fill="#05bf4c"/><rect x="660.5" y="323.4" width="4" height="4.0" fill="#05bf4c"/><rect x="666.5" y="325.2" width="4" height="5.8" fill="#e3221c"/><rect x="671.5" y="320.3" width="4" height="8.5" fill="#05bf4c"/><rect x="676.5" y="321.4" width="4" height="2.7" fill="#e3221c"/><rect x="682.5" y="284.9" width="4" height="37.2" fill="#05bf4c"/><rect x="687.5" y="262.5" width="4" height="20.1" fill="#05bf4c"/><rect x="692.5" y="259.8" width="4" height="1.5" fill="#05bf4c"/><rect x="697.5" y="240.7" width="4" height="22.8" fill="#05bf4c"/><rect x="703.5" y="212.6" width="4" height="26.8" fill="#05bf4c"/><rect x="708.5" y="199.9" width="4" height="15.0" fill="#05bf4c"/><rect x="713.5" y="201.8" width="4" height="25.1" fill="#e3221c"/><rect x="718.5" y="193.2" width="4" height="34.4" fill="#05bf4c"/><rect x="724.5" y="197.2" width="4" height="13.4" fill="#e3221c"/><rect x="729.5" y="178.1" width="4" height="30.4" fill="#05bf4c"/><rect x="734.5" y="176.0" width="4" height="38.9" fill="#e3221c"/><rect x="740.5" y="202.8" width="4" height="9.7" fill="#05bf4c"/><rect x="745.5" y="183.8" width="4" height="22.0" fill="#05bf4c"/><rect x="750.5" y="186.1" width="4" height="2.0" fill="#e3221c"/><rect x="756.5" y="186.1" width="4" height="2.0" fill="#e3221c"/><rect x="761.5" y="183.8" width="4" height="23.7" fill="#e3221c"/><rect x="766.5" y="207.5" width="4" height="5.8" fill="#e3221c"/><rect x="772.5" y="211.9" width="4" height="3.0" fill="#05bf4c"/><rect x="777.5" y="214.6" width="4" height="22.1" fill="#e3221c"/><rect x="782.5" y="231.6" width="4" height="21.8" fill="#e3221c"/><rect x="787.5" y="250.1" width="4" height="10.3" fill="#e3221c"/><rect x="793.5" y="225.9" width="4" height="35.6" fill="#05bf4c"/><rect x="798.5" y="221.3" width="4" height="6.3" fill="#05bf4c"/><rect x="803.5" y="214.9" width="4" height="5.3" fill="#05bf4c"/><rect x="808.5" y="213.3" width="4" height="1.5" fill="#e3221c"/></svg>
<div class="a" style="left:333px;top:214px;width:529px;height:1px;background:repeating-linear-gradient(90deg,#d8d8d8 0 1px,#6a6c70 1px 2px)"></div>
<div class="a" style="left:864px;top:206px;width:54px;height:17.5px;background:#d9221e;border-radius:2px"></div>
<div class="a" style="left:860px;top:211px;width:0;height:0;border-top:4px solid transparent;border-bottom:4px solid transparent;border-right:4px solid #d9221e"></div>
<svg class="a fl" style="left:349px;top:155.5px" width="24.5" height="18.5" viewBox="0 0 17 12" preserveAspectRatio="none"><rect width="17" height="12" fill="#fff"/><rect y="0.00" width="17" height="0.92" fill="#c8283c"/><rect y="1.85" width="17" height="0.92" fill="#c8283c"/><rect y="3.69" width="17" height="0.92" fill="#c8283c"/><rect y="5.54" width="17" height="0.92" fill="#c8283c"/><rect y="7.38" width="17" height="0.92" fill="#c8283c"/><rect y="9.23" width="17" height="0.92" fill="#c8283c"/><rect y="11.08" width="17" height="0.92" fill="#c8283c"/><rect width="7.5" height="6.5" fill="#33366a"/></svg>
<svg class="a fl" style="left:338.5px;top:142px" width="24.5" height="18.5" viewBox="0 0 17 12" preserveAspectRatio="none"><rect width="17" height="12" fill="#0a3fa0"/><circle cx="12.10" cy="6.00" r="0.5" fill="#f5d200"/><circle cx="11.62" cy="7.80" r="0.5" fill="#f5d200"/><circle cx="10.30" cy="9.12" r="0.5" fill="#f5d200"/><circle cx="8.50" cy="9.60" r="0.5" fill="#f5d200"/><circle cx="6.70" cy="9.12" r="0.5" fill="#f5d200"/><circle cx="5.38" cy="7.80" r="0.5" fill="#f5d200"/><circle cx="4.90" cy="6.00" r="0.5" fill="#f5d200"/><circle cx="5.38" cy="4.20" r="0.5" fill="#f5d200"/><circle cx="6.70" cy="2.88" r="0.5" fill="#f5d200"/><circle cx="8.50" cy="2.40" r="0.5" fill="#f5d200"/><circle cx="10.30" cy="2.88" r="0.5" fill="#f5d200"/><circle cx="11.62" cy="4.20" r="0.5" fill="#f5d200"/></svg>
<svg class="a" style="left:504px;top:146px" width="32" height="12" viewBox="0 0 32 12"><path d="M1 6 C4 1.5 12 1.5 15 6 C12 10.5 4 10.5 1 6 Z" fill="none" stroke="#42464d" stroke-width="1.4"/><circle cx="8" cy="6" r="2.2" fill="#42464d"/><circle cx="25" cy="6" r="4.4" fill="none" stroke="#42464d" stroke-width="1.6" stroke-dasharray="1.4 1.1"/><circle cx="25" cy="6" r="3.4" fill="#42464d"/><circle cx="25" cy="6" r="1.3" fill="#24272e"/></svg>
<svg class="a" style="left:555px;top:350px" width="160" height="18" viewBox="0 0 160 18"><g fill="#3d4148" stroke="#3d4148"><path d="M8 2 L2 9 L8 16 Z" stroke="none"/><rect x="9" y="3" width="2" height="12" stroke="none"/><circle cx="35" cy="6" r="3.8" fill="none" stroke-width="1.6"/><path d="M37.8 8.8 L41 12" stroke-width="2"/><path d="M28 13 H34 M31 10 V16" stroke-width="1.6"/><circle cx="64" cy="6" r="3.8" fill="none" stroke-width="1.6"/><path d="M66.8 8.8 L70 12" stroke-width="2"/><path d="M57 13 H63" stroke-width="1.6"/><circle cx="93" cy="6" r="3.6" fill="none" stroke-width="1.5"/><path d="M95.5 8.5 L98 11" stroke-width="1.8"/><path d="M85 14 H100 M88 11.5 L85 14 L88 16.5 M97 11.5 L100 14 L97 16.5" fill="none" stroke-width="1.4"/><circle cx="123" cy="6" r="3.6" fill="none" stroke-width="1.5"/><path d="M125.5 8.5 L128 11" stroke-width="1.8"/><path d="M114 14 H119 M116.5 11.5 L119 14 L116.5 16.5 M127 14 H122 M124.5 11.5 L122 14 L124.5 16.5" fill="none" stroke-width="1.4"/><path d="M148 2 L154 9 L148 16 Z" stroke="none"/><rect x="145" y="3" width="2" height="12" stroke="none"/></g></svg>
<div class="a" style="left:947px;top:61px;width:253px;height:361px;background:#2b3038;border:1px solid #353a43;border-right:none"></div>
<div class="a" style="left:965px;top:91px;width:215px;height:42px;background:#363b45;border:1px solid #454b55;border-radius:3px"></div>
<svg class="a" style="left:1159px;top:109px" width="14" height="9" viewBox="0 0 14 9"><path d="M1.5 1.5 L7 7 L12.5 1.5" fill="none" stroke="#3fa3ea" stroke-width="2"/></svg>
<div class="a" style="left:966px;top:201px;width:214px;height:1px;background:#40454e;"></div>
<div class="a" style="left:965px;top:213px;width:100px;height:45px;background:#2b3038;border:1.5px solid #c2403f;border-radius:4px"></div>
<div class="a" style="left:1081px;top:213px;width:99px;height:45px;background:#2b3038;border:1.5px solid #2e9e57;border-radius:4px"></div>
<div class="a" style="left:1016px;top:270.5px;width:0;height:0;border-left:5px solid transparent;border-right:5px solid transparent;border-top:5px solid #4aa9ee"></div>
<div class="a" style="left:966px;top:292px;width:214px;height:37px;background:#383d47;border-radius:3px"></div>
<svg class="a" style="left:965px;top:340px" width="26" height="17" viewBox="0 0 26 17"><path d="M2 16 L1.5 9 C1.5 4 4 1.8 9 1.8 L17 1.5 C19 0.6 21 1 22.5 2.5 L24.5 5.5 L23.5 6.3 L20.5 6.5 L18.5 9 L20.5 15.5 L18 15.5 L15.5 10.5 L13 11 L12 15.5 L9.5 15.5 L9.5 11 L7.5 10.5 L6 13 L6.5 15.5 L4 15.5 Z" fill="#ef5350"/></svg>
<svg class="a" style="left:1155px;top:339px" width="28" height="19" viewBox="0 0 28 19"><path d="M1.5 1 L5 4.5 L8 3.5 L13 5.5 L22 6.5 C24 7 25 8.5 24.5 11 L26.5 17 L24.5 17.5 L22 13 L19.5 13.5 L20 17.5 L17.5 17.5 L16.5 13 L11 13 L9 17.5 L6.5 17.5 L8 12.5 L6 10 L3.5 8.5 L1.5 7.5 L3 5.5 Z" fill="#33cc66"/></svg>
<div class="a" style="left:966px;top:362.5px;width:65px;height:3px;background:#ef5350;"></div>
<div class="a" style="left:1032.5px;top:362.5px;width:147.5px;height:3px;background:#33cc66;"></div>
<div class="a" style="left:293px;top:429px;width:907px;height:146px;background:#2b2f37;border-top:1px solid #363a43;border-left:1px solid #363a43"></div>
<div class="a" style="left:365px;top:430px;width:1px;height:36px;background:#33373f;"></div>
<div class="a" style="left:450px;top:430px;width:1px;height:36px;background:#33373f;"></div>
<div class="a" style="left:525px;top:430px;width:1px;height:36px;background:#33373f;"></div>
<div class="a" style="left:294px;top:466px;width:906px;height:32px;background:#363a44;"></div>
<div class="a" style="left:356px;top:466px;width:1px;height:32px;background:#383c46;"></div>
<div class="a" style="left:420px;top:466px;width:1px;height:32px;background:#383c46;"></div>
<div class="a" style="left:481px;top:466px;width:1px;height:32px;background:#383c46;"></div>
<div class="a" style="left:525px;top:466px;width:1px;height:32px;background:#383c46;"></div>
<div class="a" style="left:591px;top:466px;width:1px;height:32px;background:#383c46;"></div>
<div class="a" style="left:655px;top:466px;width:1px;height:32px;background:#383c46;"></div>
<div class="a" style="left:716px;top:466px;width:1px;height:32px;background:#383c46;"></div>
<div class="a" style="left:790px;top:466px;width:1px;height:32px;background:#383c46;"></div>
<div class="a" style="left:858px;top:466px;width:1px;height:32px;background:#383c46;"></div>
<div class="a" style="left:945px;top:466px;width:1px;height:32px;background:#383c46;"></div>
<div class="a" style="left:995px;top:466px;width:1px;height:32px;background:#383c46;"></div>
<div class="a" style="left:1060px;top:466px;width:1px;height:32px;background:#383c46;"></div>
<div class="a" style="left:1120px;top:466px;width:1px;height:32px;background:#383c46;"></div>
<div class="a" style="left:1066px;top:431px;width:73px;height:35px;background:#525966;"></div>
<div class="a" style="left:1097px;top:466px;width:0;height:0;border-left:5px solid transparent;border-right:5px solid transparent;border-top:5px solid #525966"></div>
<svg class="a" style="left:1036px;top:515px" width="164" height="60" viewBox="0 0 164 60"><path d="M16 4 C50 1.5 110 1.5 164 3.5 L164 58 C110 59.5 50 59.5 16 57 C6 56 3 50 3 40 L3 20 C3 10 6 5 16 4 Z" fill="#1fb3bd"/><path d="M15.5 21 L42.5 18.5 C43.5 18.4 44 19 44 20 L44 38 C44 39 43.5 39.6 42.5 39.7 L26 41 L18.5 46.5 L19.5 41.5 L15.5 41.5 C14.5 41.5 14 41 14 40 L14 22.5 C14 21.6 14.6 21.1 15.5 21 Z" fill="none" stroke="#ffffff" stroke-width="2" stroke-linejoin="round"/><circle cx="22.5" cy="31" r="1.7" fill="#fff"/><circle cx="29" cy="30.5" r="1.7" fill="#fff"/><circle cx="35.5" cy="30" r="1.7" fill="#fff"/></svg>
<div class="t" style="left:195.73px;top:17px;font-size:13.43px;color:#ffffff;font-weight:bold;transform:scaleX(0.956)">LIVE</div>
<div class="t" style="left:274.08px;top:5px;font-size:11.45px;color:#ececec;-webkit-text-stroke:0.35px #ececec">Free Margin</div>
<div class="t" style="left:282.50px;top:19px;font-size:18.84px;color:#4fb3f6;transform:scaleX(0.968)">€0.00</div>
<div class="t" style="left:374.51px;top:5px;font-size:11.45px;color:#ececec;transform:scaleX(0.985);-webkit-text-stroke:0.35px #ececec">Used Funds</div>
<div class="t" style="left:382.00px;top:19px;font-size:18.84px;color:#4fb3f6;transform:scaleX(0.990)">€0.00</div>
<div class="t" style="left:481.39px;top:5px;font-size:11.45px;color:#ececec;transform:scaleX(0.993);-webkit-text-stroke:0.35px #ececec">Equity</div>
<div class="t" style="left:475.00px;top:19px;font-size:18.84px;color:#4fb3f6;transform:scaleX(0.968)">€0.00</div>
<div class="t" style="left:572.74px;top:6px;font-size:13.33px;color:#2a2a2a;transform:scaleX(0.966);-webkit-text-stroke:0.35px #2a2a2a">Total P/L</div>
<div class="t" style="left:575.00px;top:23px;font-size:18.84px;color:#161616;transform:scaleX(0.968);-webkit-text-stroke:0.35px #161616">€0.00</div>
<div class="t" style="left:675.98px;top:8px;font-size:12.68px;color:#eeeeee;-webkit-text-stroke:0.35px #eeeeee">Margin Level</div>
<div class="t" style="left:687.47px;top:23px;font-size:18.84px;color:#f2f2f2;transform:scaleX(0.937)">0.00%</div>
<div class="t" style="left:1014.49px;top:19px;font-size:12.68px;color:#ffffff;transform:scaleX(0.994);-webkit-text-stroke:0.35px #ffffff">HI,...</div>
<div class="t" style="left:1104.51px;top:16px;font-size:15.22px;color:#4a4a4a;transform:scaleX(0.816)">DEPOSIT</div>
<div class="t" style="left:33.59px;top:73px;font-size:10.87px;color:#f2f2f2;transform:scaleX(0.954);-webkit-text-stroke:0.35px #f2f2f2">Search for assets to trade...</div>
<div class="t" style="left:46.17px;top:107px;font-size:11.16px;color:#f0f0f0;transform:scaleX(0.934);-webkit-text-stroke:0.35px #f0f0f0">Favorites</div>
<div class="t" style="left:46.17px;top:139px;font-size:11.30px;color:#f0f0f0;transform:scaleX(0.918);-webkit-text-stroke:0.35px #f0f0f0">Forex</div>
<div class="t" style="left:147.83px;top:139px;font-size:11.30px;color:#f0f0f0;transform:scaleX(0.961);-webkit-text-stroke:0.35px #f0f0f0">Price</div>
<div class="t" style="left:197.50px;top:139px;font-size:11.30px;color:#f0f0f0;transform:scaleX(0.882);-webkit-text-stroke:0.35px #f0f0f0">D. Chng</div>
<div class="t" style="left:76.26px;top:174px;font-size:10.14px;color:#e4e4e4;transform:scaleX(0.910);-webkit-text-stroke:0.35px #e4e4e4">EURUSD</div>
<div class="t" style="left:147.40px;top:174px;font-size:10.14px;color:#e4e4e4;transform:scaleX(0.975);-webkit-text-stroke:0.35px #e4e4e4">1.19821</div>
<div class="t" style="left:203.42px;top:174px;font-size:10.14px;color:#3cbb5c;transform:scaleX(0.910);-webkit-text-stroke:0.35px #3cbb5c">0.03%</div>
<div class="t" style="left:74.04px;top:213px;font-size:10.14px;color:#e4e4e4;transform:scaleX(0.910);-webkit-text-stroke:0.35px #e4e4e4">GBPUSD</div>
<div class="t" style="left:144.80px;top:213px;font-size:10.14px;color:#e4e4e4;transform:scaleX(0.975);-webkit-text-stroke:0.35px #e4e4e4">1.37840</div>
<div class="t" style="left:200.92px;top:213px;font-size:10.14px;color:#3cbb5c;transform:scaleX(0.910);-webkit-text-stroke:0.35px #3cbb5c">0.05%</div>
<div class="t" style="left:73.85px;top:247px;font-size:10.14px;color:#e4e4e4;transform:scaleX(0.910);-webkit-text-stroke:0.35px #e4e4e4">USDJPY</div>
<div class="t" style="left:144.80px;top:247px;font-size:10.14px;color:#e4e4e4;transform:scaleX(0.975);-webkit-text-stroke:0.35px #e4e4e4">108.755</div>
<div class="t" style="left:200.83px;top:247px;font-size:10.14px;color:#d9534f;transform:scaleX(0.910);-webkit-text-stroke:0.35px #d9534f">-0.16%</div>
<div class="t" style="left:73.85px;top:282px;font-size:10.14px;color:#e4e4e4;transform:scaleX(0.910);-webkit-text-stroke:0.35px #e4e4e4">USDCHF</div>
<div class="t" style="left:144.80px;top:282px;font-size:10.14px;color:#e4e4e4;transform:scaleX(0.975);-webkit-text-stroke:0.35px #e4e4e4">0.92228</div>
<div class="t" style="left:200.83px;top:282px;font-size:10.14px;color:#d9534f;transform:scaleX(0.910);-webkit-text-stroke:0.35px #d9534f">-0.05%</div>
<div class="t" style="left:73.85px;top:317px;font-size:10.14px;color:#e4e4e4;transform:scaleX(0.910);-webkit-text-stroke:0.35px #e4e4e4">USDCAD</div>
<div class="t" style="left:144.90px;top:317px;font-size:10.14px;color:#e4e4e4;transform:scaleX(0.975);-webkit-text-stroke:0.35px #e4e4e4">1.24821</div>
<div class="t" style="left:200.83px;top:317px;font-size:10.14px;color:#d9534f;transform:scaleX(0.910);-webkit-text-stroke:0.35px #d9534f">-0.30%</div>
<div class="t" style="left:74.50px;top:351px;font-size:10.14px;color:#e4e4e4;transform:scaleX(0.910);-webkit-text-stroke:0.35px #e4e4e4">AUDUSD</div>
<div class="t" style="left:144.80px;top:351px;font-size:10.14px;color:#e4e4e4;transform:scaleX(0.975);-webkit-text-stroke:0.35px #e4e4e4">0.77525</div>
<div class="t" style="left:200.92px;top:351px;font-size:10.14px;color:#3cbb5c;transform:scaleX(0.910);-webkit-text-stroke:0.35px #3cbb5c">0.37%</div>
<div class="t" style="left:73.76px;top:386px;font-size:10.14px;color:#e4e4e4;transform:scaleX(0.910);-webkit-text-stroke:0.35px #e4e4e4">NZDUSD</div>
<div class="t" style="left:144.80px;top:386px;font-size:10.14px;color:#e4e4e4;transform:scaleX(0.975);-webkit-text-stroke:0.35px #e4e4e4">0.71733</div>
<div class="t" style="left:200.92px;top:386px;font-size:10.14px;color:#3cbb5c;transform:scaleX(0.910);-webkit-text-stroke:0.35px #3cbb5c">0.49%</div>
<div class="t" style="left:73.76px;top:420px;font-size:10.14px;color:#e4e4e4;transform:scaleX(0.910);-webkit-text-stroke:0.35px #e4e4e4">EURGBP</div>
<div class="t" style="left:144.90px;top:420px;font-size:10.14px;color:#e4e4e4;transform:scaleX(0.975);-webkit-text-stroke:0.35px #e4e4e4">0.86907</div>
<div class="t" style="left:200.92px;top:420px;font-size:10.14px;color:#3cbb5c;transform:scaleX(0.910);-webkit-text-stroke:0.35px #3cbb5c">0.07%</div>
<div class="t" style="left:46.68px;top:462px;font-size:11.30px;color:#f0f0f0;transform:scaleX(0.922);-webkit-text-stroke:0.35px #f0f0f0">Crypto</div>
<div class="t" style="left:46.67px;top:494px;font-size:11.30px;color:#f0f0f0;transform:scaleX(0.935);-webkit-text-stroke:0.35px #f0f0f0">Commodities</div>
<div class="t" style="left:46.78px;top:526px;font-size:11.30px;color:#f0f0f0;transform:scaleX(0.936);-webkit-text-stroke:0.35px #f0f0f0">Stocks</div>
<div class="t" style="left:46.24px;top:558px;font-size:11.30px;color:#f0f0f0;transform:scaleX(0.946);-webkit-text-stroke:0.35px #f0f0f0">Indices</div>
<div class="t" style="left:308.05px;top:72px;font-size:13.04px;color:#4aa9ee;transform:scaleX(0.944);-webkit-text-stroke:0.35px #4aa9ee">Trading Chart</div>
<div class="t" style="left:411.51px;top:72px;font-size:13.33px;color:#f2f2f2;transform:scaleX(0.993);-webkit-text-stroke:0.35px #f2f2f2">Information</div>
<div class="t" style="left:558.42px;top:106px;font-size:11.86px;color:#f2f2f2;font-weight:bold;font-style:italic">1</div>
<div class="t" style="left:591.12px;top:106px;font-size:11.86px;color:#f2f2f2;font-weight:bold;font-style:italic">5</div>
<div class="t" style="left:620.76px;top:106px;font-size:11.86px;color:#f2f2f2;font-weight:bold;font-style:italic">15</div>
<div class="t" style="left:653.94px;top:106px;font-size:11.86px;color:#f2f2f2;font-weight:bold;font-style:italic">30</div>
<div class="t" style="left:689.06px;top:106px;font-size:11.86px;color:#f2f2f2;font-weight:bold;font-style:italic">h</div>
<div class="t" style="left:719.90px;top:107px;font-size:10.00px;color:#f2f2f2;font-weight:bold;font-style:italic">4</div>
<div class="t" style="left:725.93px;top:105px;font-size:8.86px;color:#f2f2f2;font-weight:bold;font-style:italic">h</div>
<div class="t" style="left:754.65px;top:106px;font-size:11.86px;color:#f2f2f2;font-weight:bold;font-style:italic">d</div>
<div class="t" style="left:786.28px;top:106px;font-size:11.86px;color:#f2f2f2;font-weight:bold;font-style:italic">w</div>
<div class="t" style="left:818.40px;top:106px;font-size:11.86px;color:#f2f2f2;font-weight:bold;font-style:italic">m</div>
<div class="t" style="left:868.18px;top:137px;font-size:12.46px;color:#8c8c8c;transform:scaleX(0.938)">1.19865</div>
<div class="t" style="left:868.18px;top:203px;font-size:12.46px;color:#8c8c8c;transform:scaleX(0.935)">1.19824</div>
<div class="t" style="left:868.18px;top:268px;font-size:12.46px;color:#8c8c8c;transform:scaleX(0.938)">1.19783</div>
<div class="t" style="left:868.18px;top:333px;font-size:12.46px;color:#8c8c8c;transform:scaleX(0.940)">1.19742</div>
<div class="t" style="left:868.77px;top:209px;font-size:11.71px;color:#ffffff;font-weight:bold;transform:scaleX(1.040)">1.19821</div>
<div class="t" style="left:332.65px;top:397px;font-size:12.03px;color:#8a8a8a;transform:scaleX(0.972);-webkit-text-stroke:0.35px #8a8a8a">09:33</div>
<div class="t" style="left:332.14px;top:406px;font-size:12.32px;color:#8a8a8a;-webkit-text-stroke:0.35px #8a8a8a">15/04/2021</div>
<div class="t" style="left:435.69px;top:397px;font-size:12.03px;color:#8a8a8a;transform:scaleX(0.920);-webkit-text-stroke:0.35px #8a8a8a">09:55</div>
<div class="t" style="left:515.27px;top:397px;font-size:12.03px;color:#8a8a8a;transform:scaleX(0.920);-webkit-text-stroke:0.35px #8a8a8a">10:10</div>
<div class="t" style="left:594.97px;top:397px;font-size:12.03px;color:#8a8a8a;transform:scaleX(0.920);-webkit-text-stroke:0.35px #8a8a8a">10:25</div>
<div class="t" style="left:674.97px;top:397px;font-size:12.03px;color:#8a8a8a;transform:scaleX(0.920);-webkit-text-stroke:0.35px #8a8a8a">10:40</div>
<div class="t" style="left:754.97px;top:397px;font-size:12.03px;color:#8a8a8a;transform:scaleX(0.920);-webkit-text-stroke:0.35px #8a8a8a">10:55</div>
<div class="t" style="left:389.49px;top:149px;font-size:22.46px;color:#b2b2b2;transform:scaleX(0.839)">EURUSD</div>
<div class="t" style="left:538.94px;top:146px;font-size:12.17px;color:#bdbdbd;transform:scaleX(0.952);-webkit-text-stroke:0.35px #bdbdbd">open: 1.19822 high: 1.19822 low: 1.19822 close: 1.19822</div>
<div class="t" style="left:966.00px;top:73px;font-size:13.19px;color:#f2f2f2;transform:scaleX(0.943);-webkit-text-stroke:0.35px #f2f2f2">Volume in lot</div>
<div class="t" style="left:973.93px;top:107px;font-size:10.58px;color:#f2f2f2;transform:scaleX(0.902);-webkit-text-stroke:0.35px #f2f2f2">1</div>
<div class="t" style="left:965.65px;top:145px;font-size:9.13px;color:#eaeaea;transform:scaleX(1.024);-webkit-text-stroke:0.35px #eaeaea">1.00 Lot :</div>
<div class="t" style="left:1114.58px;top:145px;font-size:9.13px;color:#eaeaea;transform:scaleX(0.975);-webkit-text-stroke:0.35px #eaeaea">100,000.00 EUR</div>
<div class="t" style="left:965.47px;top:163px;font-size:10.14px;color:#eaeaea;transform:scaleX(1.021);-webkit-text-stroke:0.35px #eaeaea">Pips Value:</div>
<div class="t" style="left:1154.30px;top:163px;font-size:10.14px;color:#eaeaea;transform:scaleX(1.027);-webkit-text-stroke:0.35px #eaeaea">€8.35</div>
<div class="t" style="left:965.48px;top:182px;font-size:10.87px;color:#eaeaea;transform:scaleX(0.941);-webkit-text-stroke:0.35px #eaeaea">Required Margin:</div>
<div class="t" style="left:1135.40px;top:182px;font-size:10.87px;color:#eaeaea;transform:scaleX(0.930);-webkit-text-stroke:0.35px #eaeaea">€1,000.00</div>
<div class="t" style="left:998.77px;top:221px;font-size:15.51px;color:#ffffff;transform:scaleX(0.859);-webkit-text-stroke:0.35px #ffffff">SELL</div>
<div class="t" style="left:992.64px;top:236px;font-size:14.93px;color:#ffffff;transform:scaleX(0.821)">1.19821</div>
<div class="t" style="left:1116.74px;top:221px;font-size:15.51px;color:#ffffff;transform:scaleX(0.856);-webkit-text-stroke:0.35px #ffffff">BUY</div>
<div class="t" style="left:1107.42px;top:236px;font-size:14.93px;color:#ffffff;transform:scaleX(0.841)">1.19851</div>
<div class="t" style="left:966.00px;top:268px;font-size:11.59px;color:#4aa9ee;transform:scaleX(0.878);-webkit-text-stroke:0.35px #4aa9ee">Advanced</div>
<div class="t" style="left:1051.36px;top:302px;font-size:16.23px;color:#95999f;transform:scaleX(0.984)">Invest</div>
<div class="t" style="left:965.55px;top:373px;font-size:16.67px;color:#ef5350;transform:scaleX(0.908)">31%</div>
<div class="t" style="left:1040.39px;top:375px;font-size:11.59px;color:#f0f0f0;transform:scaleX(0.906);-webkit-text-stroke:0.35px #f0f0f0">Traders Trend</div>
<div class="t" style="left:1149.52px;top:373px;font-size:16.67px;color:#33cc66;transform:scaleX(0.933)">69%</div>
<div class="t" style="left:300.80px;top:441px;font-size:10.14px;color:#3592da;transform:scaleX(0.977);-webkit-text-stroke:0.35px #3592da">Open Trades</div>
<div class="t" style="left:371.99px;top:442px;font-size:11.45px;color:#b8b8b8;transform:scaleX(0.886);-webkit-text-stroke:0.35px #b8b8b8">Pending Orders</div>
<div class="t" style="left:457.30px;top:442px;font-size:11.45px;color:#b8b8b8;transform:scaleX(0.895);-webkit-text-stroke:0.35px #b8b8b8">Trade History</div>
<div class="t" style="left:304.36px;top:476px;font-size:10.87px;color:#b4b8bd;transform:scaleX(0.787);-webkit-text-stroke:0.35px #b4b8bd">ORDER ID</div>
<div class="t" style="left:356.26px;top:476px;font-size:10.87px;color:#b4b8bd;transform:scaleX(0.806);-webkit-text-stroke:0.35px #b4b8bd">CREATED TI...</div>
<div class="t" style="left:432.94px;top:476px;font-size:10.87px;color:#b4b8bd;transform:scaleX(0.834);-webkit-text-stroke:0.35px #b4b8bd">SYMBOL</div>
<div class="t" style="left:482.30px;top:476px;font-size:10.87px;color:#b4b8bd;transform:scaleX(0.808);-webkit-text-stroke:0.35px #b4b8bd">DIRECTI...</div>
<div class="t" style="left:541.40px;top:476px;font-size:10.87px;color:#b4b8bd;transform:scaleX(0.826);-webkit-text-stroke:0.35px #b4b8bd">VOLUME</div>
<div class="t" style="left:612.75px;top:476px;font-size:10.87px;color:#b4b8bd;transform:scaleX(0.864);-webkit-text-stroke:0.35px #b4b8bd">PIPS</div>
<div class="t" style="left:659.14px;top:476px;font-size:10.87px;color:#b4b8bd;transform:scaleX(0.823);-webkit-text-stroke:0.35px #b4b8bd">OPEN PRICE</div>
<div class="t" style="left:717.56px;top:476px;font-size:10.87px;color:#b4b8bd;transform:scaleX(0.804);-webkit-text-stroke:0.35px #b4b8bd">CURRENT PR...</div>
<div class="t" style="left:797.15px;top:476px;font-size:10.87px;color:#b4b8bd;transform:scaleX(0.810);-webkit-text-stroke:0.35px #b4b8bd">STOP LOSS</div>
<div class="t" style="left:874.82px;top:476px;font-size:10.87px;color:#b4b8bd;transform:scaleX(0.808);-webkit-text-stroke:0.35px #b4b8bd">TAKE PROFIT</div>
<div class="t" style="left:958.13px;top:476px;font-size:10.87px;color:#b4b8bd;transform:scaleX(0.848);-webkit-text-stroke:0.35px #b4b8bd">SWAP</div>
<div class="t" style="left:998.24px;top:476px;font-size:10.87px;color:#b4b8bd;transform:scaleX(0.846);-webkit-text-stroke:0.35px #b4b8bd">COMMISSI...</div>
<div class="t" style="left:1071.98px;top:476px;font-size:10.87px;color:#b4b8bd;transform:scaleX(0.831);-webkit-text-stroke:0.35px #b4b8bd">PROFIT</div>
<div class="t" style="left:1146.56px;top:476px;font-size:10.87px;color:#b4b8bd;transform:scaleX(0.802);-webkit-text-stroke:0.35px #b4b8bd">CLOSE</div>
<div class="t" style="left:1076.46px;top:443px;font-size:11.59px;color:#f4f4f4;transform:scaleX(0.908);-webkit-text-stroke:0.35px #f4f4f4">P/L:  €0.00</div>
<div class="t" style="left:1086.70px;top:540px;font-size:16.57px;color:#ffffff;font-weight:bold;transform:scaleX(1.050)">Chat with us!</div>
</body></html>
